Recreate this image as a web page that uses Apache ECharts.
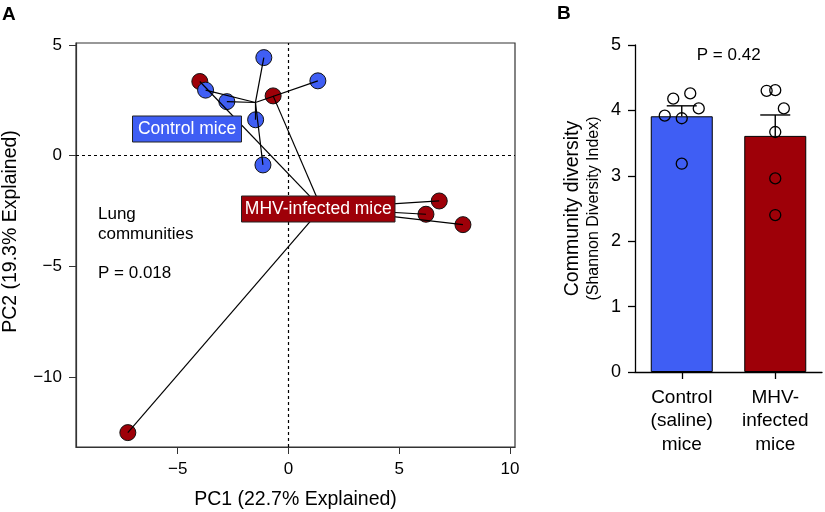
<!DOCTYPE html>
<html>
<head>
<meta charset="utf-8">
<script src="https://cdn.jsdelivr.net/npm/echarts@6/dist/echarts.min.js"></script>
<style>
html,body{margin:0;padding:0;background:#fff;}
#chart{width:825px;height:512px;}
</style>
</head>
<body>
<div id="chart"></div>
<script>
// ---------- Panel A: PCA ----------
const pcaControlX = [-1.11, -3.74, -2.78, -1.48, -1.15, 1.33];
const pcaControlY = [4.43, 2.96, 2.44, 1.62, -0.42, 3.38];
const pcaInfectedX = [-4.00, -0.69, 6.81, 6.21, 7.88, -7.25];
const pcaInfectedY = [3.35, 2.70, -2.05, -2.65, -3.12, -12.52];
const pcaXTicks = [-5, 0, 5, 10];
const pcaYTicks = [-10, -5, 0, 5];
const pcaXTitle = 'PC1 (22.7% Explained)';
const pcaYTitle = 'PC2 (19.3% Explained)';
const pcaGroupLabels = ['Control mice', 'MHV-infected mice'];
const pcaNote = 'Lung\ncommunities';
const pcaP = 'P = 0.018';

// ---------- Panel B: diversity ----------
const groupNames = ['Control\n(saline)\nmice', 'MHV-\ninfected\nmice'];
const diversityMean = [3.91, 3.61];
const diversitySEM = [0.16, 0.32];
const controlDiversity = [3.92, 4.18, 4.26, 4.03, 3.88, 3.185];
const infectedDiversity = [4.30, 4.31, 4.03, 3.67, 2.96, 2.40];
const controlSlots = [-2, -1, 1, 2, 0, 0];
const infectedSlots = [-1, 0, 1, 0, 0, 0];
const diversityTicks = [0, 1, 2, 3, 4, 5];
const diversityP = 'P = 0.42';

const BLUE = '#3F5EF4';
const RED = '#9E0008';
const FONT = '"Liberation Sans", Arial, Helvetica, sans-serif';

const mean = a => a.reduce((s, v) => s + v, 0) / a.length;
const ctrlPts = pcaControlX.map((x, i) => [x, pcaControlY[i]]);
const infPts = pcaInfectedX.map((x, i) => [x, pcaInfectedY[i]]);
const ctrlC = [mean(pcaControlX), mean(pcaControlY)];
const infC = [mean(pcaInfectedX), mean(pcaInfectedY)];
const spider = (c, pts) => pts.map(p => ({ coords: [c, p] }));
const fmtMinus = v => String(v).replace('-', '\u2212');

const chart = echarts.init(document.getElementById('chart'), null, { renderer: 'canvas' });

const axisText = { color: '#000', fontSize: 17, fontFamily: FONT };

const option = {
  backgroundColor: '#fff',
  animation: false,
  textStyle: { fontFamily: FONT },
  grid: [
    { left: 76, top: 43, width: 439, height: 404, show: true, borderColor: '#333', borderWidth: 1.2, backgroundColor: 'transparent' },
    { left: 635, top: 45, width: 187, height: 327 }
  ],
  xAxis: [
    {
      gridIndex: 0, type: 'value', min: -9.59, max: 10.23,
      axisLine: { show: true, onZero: false, lineStyle: { color: '#333', width: 1.2 } },
      axisTick: { show: true, length: 7, customValues: pcaXTicks, lineStyle: { color: '#333' } },
      axisLabel: Object.assign({ customValues: pcaXTicks, margin: 14, formatter: fmtMinus }, axisText),
      splitLine: { show: false }
    },
    {
      gridIndex: 1, type: 'category', data: groupNames,
      axisLine: { show: true, lineStyle: { color: '#000', width: 1.3 } },
      axisTick: { show: true, alignWithLabel: true, length: 7, lineStyle: { color: '#000', width: 1.3 } },
      axisLabel: Object.assign({}, axisText, { fontSize: 19, lineHeight: 23.5, margin: 14 })
    }
  ],
  yAxis: [
    {
      gridIndex: 0, type: 'value', min: -13.17, max: 5.09,
      axisLine: { show: true, onZero: false, lineStyle: { color: '#333', width: 1.2 } },
      axisTick: { show: true, length: 7, customValues: pcaYTicks, lineStyle: { color: '#333' } },
      axisLabel: Object.assign({ customValues: pcaYTicks, margin: 14, formatter: fmtMinus }, axisText),
      splitLine: { show: false }
    },
    {
      gridIndex: 1, type: 'value', min: 0, max: 5, interval: 1,
      axisLine: { show: true, lineStyle: { color: '#000', width: 1.3 } },
      axisTick: { show: true, length: 7, lineStyle: { color: '#000', width: 1.3 } },
      axisLabel: Object.assign({ margin: 14 }, axisText, { fontSize: 18 }),
      splitLine: { show: false },
      name: '{a|Community diversity}\n{b|(Shannon Diversity Index)}',
      nameLocation: 'middle', nameRotate: 90, nameGap: 31,
      nameTextStyle: {
        color: '#000', align: 'center',
        rich: {
          a: { fontSize: 19.5, fontFamily: FONT, color: '#000', lineHeight: 23 },
          b: { fontSize: 16, fontFamily: FONT, color: '#000', lineHeight: 20 }
        }
      }
    }
  ],
  series: [
    {
      name: 'zero', type: 'scatter', xAxisIndex: 0, yAxisIndex: 0, data: [], silent: true,
      markLine: {
        silent: true, symbol: 'none', label: { show: false },
        lineStyle: { color: '#000', type: [3, 3], width: 1.2 },
        data: [{ xAxis: 0 }, { yAxis: 0 }]
      }
    },
    {
      name: 'MHV-infected', type: 'scatter', xAxisIndex: 0, yAxisIndex: 0, z: 3,
      symbolSize: 16, data: infPts,
      itemStyle: { color: RED, borderColor: '#111', borderWidth: 1, opacity: 1 }
    },
    {
      name: 'Control', type: 'scatter', xAxisIndex: 0, yAxisIndex: 0, z: 4,
      symbolSize: 16, data: ctrlPts,
      itemStyle: { color: BLUE, borderColor: '#111', borderWidth: 1, opacity: 1 }
    },
    {
      name: 'ctrlSpider', type: 'lines', coordinateSystem: 'cartesian2d', xAxisIndex: 0, yAxisIndex: 0, z: 6,
      data: spider(ctrlC, ctrlPts), lineStyle: { color: '#000', width: 1.2, opacity: 1 }, silent: true
    },
    {
      name: 'infSpider', type: 'lines', coordinateSystem: 'cartesian2d', xAxisIndex: 0, yAxisIndex: 0, z: 6,
      data: spider(infC, infPts), lineStyle: { color: '#000', width: 1.2, opacity: 1 }, silent: true
    },
    {
      name: 'Diversity', type: 'bar', xAxisIndex: 1, yAxisIndex: 1, barWidth: 62,
      data: diversityMean.map((v, i) => ({ value: v, itemStyle: { color: i === 0 ? BLUE : RED } })),
      itemStyle: { borderColor: '#000', borderWidth: 1 }, z: 2
    },
    {
      name: 'SEM', type: 'custom', xAxisIndex: 1, yAxisIndex: 1, z: 5,
      data: diversityMean.map((m, i) => [i, m, m + diversitySEM[i]]),
      renderItem: function (params, api) {
        const p0 = api.coord([api.value(0), api.value(1)]);
        const p1 = api.coord([api.value(0), api.value(2)]);
        const st = { stroke: '#000', lineWidth: 1.4 };
        return {
          type: 'group', children: [
            { type: 'line', shape: { x1: p0[0], y1: p0[1], x2: p1[0], y2: p1[1] }, style: st },
            { type: 'line', shape: { x1: p1[0] - 15, y1: p1[1], x2: p1[0] + 15, y2: p1[1] }, style: st }
          ]
        };
      }
    },
    {
      name: 'Points', type: 'scatter', xAxisIndex: 1, yAxisIndex: 1, z: 6, symbolSize: 11,
      data: controlDiversity.map((v, i) => ({ value: [0, v], symbolOffset: [controlSlots[i] * 8.5, 0] }))
        .concat(infectedDiversity.map((v, i) => ({ value: [1, v], symbolOffset: [infectedSlots[i] * 8.6, 0] }))),
      itemStyle: { color: 'rgba(0,0,0,0)', borderColor: '#000', borderWidth: 1.3, opacity: 1 }
    }
  ],
  graphic: [
    { type: 'text', left: 2, top: 5, style: { text: 'A', font: 'bold 19px ' + FONT, fill: '#000' } },
    { type: 'text', left: 557, top: 4, style: { text: 'B', font: 'bold 19px ' + FONT, fill: '#000' } },
    { type: 'text', x: 295.5, y: 500, style: { text: pcaXTitle, font: '19.5px ' + FONT, fill: '#000', align: 'center', verticalAlign: 'middle' } },
    { type: 'text', x: 11, y: 231.5, rotation: Math.PI / 2, style: { text: pcaYTitle, font: '19.5px ' + FONT, fill: '#000', align: 'center', verticalAlign: 'middle' } },
    { type: 'text', x: 98, y: 204, style: { text: pcaNote, font: '17px ' + FONT, fill: '#000', lineHeight: 20, verticalAlign: 'top' } },
    { type: 'text', x: 98, y: 265, style: { text: pcaP, font: '17px ' + FONT, fill: '#000', verticalAlign: 'top' } },
    { type: 'rect', z: 20, shape: { x: 132.5, y: 116, width: 109, height: 26 }, style: { fill: BLUE, stroke: '#222', lineWidth: 1 } },
    { type: 'text', z: 21, x: 187, y: 129.5, style: { text: pcaGroupLabels[0], font: '17.5px ' + FONT, fill: '#fff', align: 'center', verticalAlign: 'middle' } },
    { type: 'rect', z: 20, shape: { x: 241.5, y: 196, width: 153.5, height: 26 }, style: { fill: RED, stroke: '#222', lineWidth: 1 } },
    { type: 'text', z: 21, x: 318.3, y: 209.5, style: { text: pcaGroupLabels[1], font: '17.5px ' + FONT, fill: '#fff', align: 'center', verticalAlign: 'middle' } },
    { type: 'text', x: 728.7, y: 55, style: { text: diversityP, font: '17px ' + FONT, fill: '#000', align: 'center', verticalAlign: 'middle' } }
  ]
};
chart.setOption(option);
</script>
</body>
</html>
